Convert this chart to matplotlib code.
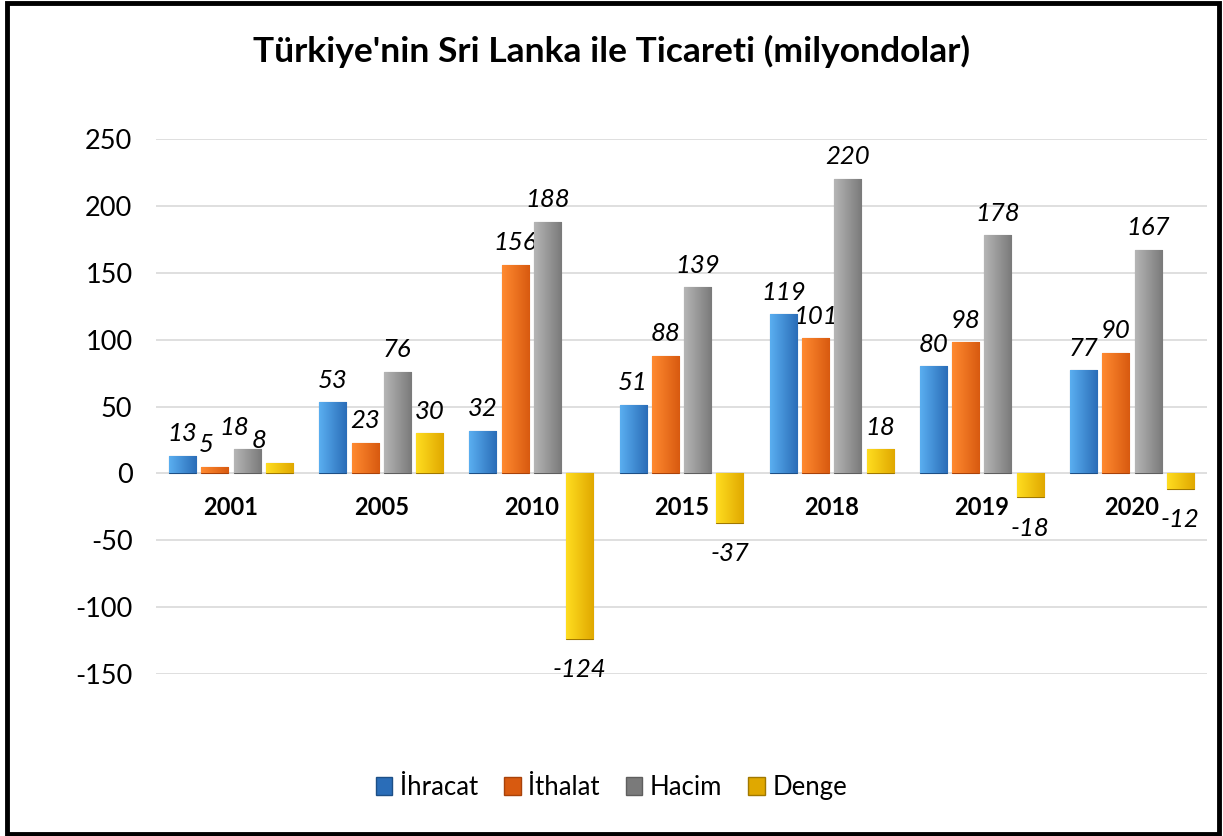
import matplotlib.pyplot as plt
import numpy as np
from matplotlib.patches import Rectangle

# data
years = ["2001", "2005", "2010", "2015", "2018", "2019", "2020"]
ihracat = [13, 53, 32, 51, 119, 80, 77]
ithalat = [5, 23, 156, 88, 101, 98, 90]
hacim = [18, 76, 188, 139, 220, 178, 167]
denge = [8, 30, -124, -37, 18, -18, -12]
series_names = ["İhracat", "İthalat", "Hacim", "Denge"]

# light, dark, edge for each series
colors = [
    ("#5aaef0", "#2a6db8", "#1d4f86"),
    ("#ff8a30", "#d85a10", "#a8420a"),
    ("#b5b5b5", "#7a7a7a", "#5e5e5e"),
    ("#ffdd20", "#e0a800", "#a07800"),
]

plt.rcParams['font.family'] = ['Lato', 'DejaVu Sans']
plt.rcParams['axes.unicode_minus'] = False

fig = plt.figure(figsize=(12.23, 8.36), dpi=100)
ax = fig.add_axes([0.1276, 0.1938, 0.8593, 0.6399])

x = np.arange(len(years))
slot = 0.215
width = 0.18
all_series = [ihracat, ithalat, hacim, denge]

grad = np.linspace(0, 1, 64).reshape(1, -1)
for i, vals in enumerate(all_series):
    light, dark, edge = colors[i]
    cmap = plt.matplotlib.colors.LinearSegmentedColormap.from_list(
        "g%d" % i, [light, dark])
    bars = ax.bar(x + (i - 1.5) * slot, vals, width, color=dark,
                  edgecolor=edge, linewidth=0.8, zorder=3,
                  label=series_names[i])
    for b in bars:
        bx, by = b.get_x(), b.get_y()
        bw, bh = b.get_width(), b.get_height()
        im = ax.imshow(grad, cmap=cmap, aspect='auto', zorder=3.1,
                       extent=[bx, bx + bw, by, by + bh], interpolation='bilinear')
        im.set_clip_path(b)

    # value labels
    for j, v in enumerate(vals):
        dx = 0
        if j == 0:
            dx = [0, -6.5, -9.4, -15][i]
        dy = 16 if v >= 0 else -22
        ax.annotate(str(v), (x[j] + (i - 1.5) * slot, v), xytext=(dx, dy),
                    textcoords='offset points', ha='center', va='center',
                    fontsize=18.5, fontstyle='italic', annotation_clip=False)

# category labels next to the zero line
for j, yr in enumerate(years):
    ax.annotate(yr, (x[j], 0), xytext=(0, -24.5), textcoords='offset points',
                ha='center', va='center', fontsize=17, fontweight='bold')

ax.set_xlim(-0.5, len(years) - 0.5)
ax.set_ylim(-150, 250)
ax.set_yticks(np.arange(-150, 251, 50))
ax.set_xticks([])
ax.tick_params(axis='y', length=0, labelsize=19.5, pad=17)
ax.grid(axis='y', color='#d9d9d9', linewidth=1.2, zorder=0)
for s in ax.spines.values():
    s.set_visible(False)

fig.suptitle("Türkiye'nin Sri Lanka ile Ticareti (milyondolar)",
             x=0.5, y=0.958, fontsize=25.5, fontweight='bold')

handles = [Rectangle((0, 0), 1, 1, facecolor=c[1], edgecolor=c[2]) for c in colors]
fig.legend(handles, series_names, loc='center', bbox_to_anchor=(0.5, 0.058),
           ncol=4, frameon=False, fontsize=18.5, handlelength=0.65,
           handleheight=0.65, handletextpad=0.3, columnspacing=1.0)

# outer frame
fig.patches.append(Rectangle((0.006, 0.002), 0.991, 0.995, transform=fig.transFigure,
                             fill=False, edgecolor='black', linewidth=3.5))

fig.savefig("out.png", dpi=100)
